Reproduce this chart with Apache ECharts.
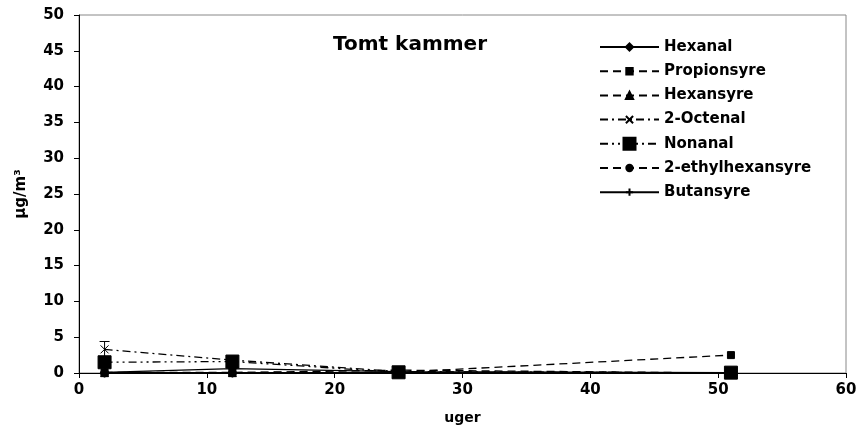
<!DOCTYPE html>
<html><head><meta charset="utf-8">
<script src="https://cdn.jsdelivr.net/npm/echarts@6/dist/echarts.min.js"></script>
<style>html,body{margin:0;padding:0;background:#fff}#c{width:863px;height:432px}</style>
</head><body><div id="c"></div>
<script>
const weeks = [2, 12, 25, 51];
const seriesNames = ['Hexanal', 'Propionsyre', 'Hexansyre', '2-Octenal', 'Nonanal', '2-ethylhexansyre', 'Butansyre'];
const hexanal = [0.1, 0.6, 0.2, 0.05];
const propionsyre = [0.1, 0.1, 0.1, 2.5];
const hexansyre = [0.05, 0.05, 0.4, 0.0];
const octenal = [3.3, 1.8, 0.2, 0.0];
const nonanal = [1.5, 1.6, 0.1, 0.05];
const ethylhexansyre = [0.0, 0.0, 0.0, 0.0];
const butansyre = [0.05, 0.05, 0.05, 0.0];
const octenalErrX = [2];
const octenalErrLow = [2.2];
const octenalErrHigh = [4.4];
const yTicks = [0, 5, 10, 15, 20, 25, 30, 35, 40, 45, 50];
const xTicks = [0, 10, 20, 30, 40, 50, 60];

const FONT = 'DejaVu Sans, Verdana, sans-serif';
const pts = v => weeks.map((w, i) => [w, v[i]]);
const X_PATH = 'path://M0,0L10,10M10,0L0,10';
const PLUS_PATH = 'path://M5,0L5,10M0,5L10,5';

function mk(name, data, dash, symbol, size) {
  return {
    name, type: 'line', data: pts(data), symbol, symbolSize: size,
    lineStyle: {color: '#000', width: 1.3, type: dash},
    itemStyle: {color: '#000', borderColor: '#000', borderWidth: 1},
    emphasis: {disabled: true}, z: 3
  };
}

const legendIconH = [9, 8, 9, 9, 15, 8, 9];
const legends = seriesNames.map((n, i) => {
  const center = 47 + 24.2 * i;
  return {
    orient: 'vertical', left: 599, top: center - 8, itemWidth: 59, itemHeight: legendIconH[i],
    padding: 0, selectedMode: false,
    textStyle: {fontFamily: FONT, fontSize: 15, fontWeight: 'bold', color: '#000', lineHeight: 16},
    data: [n]
  };
});

const chart = echarts.init(document.getElementById('c'), null, {renderer: 'canvas'});
chart.setOption({
  animation: false,
  backgroundColor: '#fff',
  title: {text: 'Tomt kammer', left: 333, top: 35, padding: 0,
    textStyle: {fontFamily: FONT, fontSize: 20, fontWeight: 'bold', color: '#000'}},
  grid: {left: 79, right: 17, top: 15, bottom: 59, show: true, borderColor: '#888', borderWidth: 1},
  legend: legends,
  xAxis: {
    type: 'value', min: xTicks[0], max: xTicks[xTicks.length - 1], interval: 10,
    name: 'uger', nameLocation: 'middle', nameGap: 38,
    nameTextStyle: {fontFamily: FONT, fontSize: 14, fontWeight: 'bold', color: '#000'},
    axisLine: {lineStyle: {color: '#000', width: 1}},
    axisTick: {show: true, length: 5, lineStyle: {color: '#000'}},
    axisLabel: {fontFamily: FONT, fontSize: 15, fontWeight: 'bold', color: '#000', margin: 10},
    splitLine: {show: false}
  },
  yAxis: {
    type: 'value', min: yTicks[0], max: yTicks[yTicks.length - 1], interval: 5,
    name: 'µg/m³', nameLocation: 'middle', nameGap: 50, nameRotate: 90,
    nameTextStyle: {fontFamily: FONT, fontSize: 15, fontWeight: 'bold', color: '#000'},
    axisLine: {show: true, lineStyle: {color: '#000', width: 1}},
    axisTick: {show: true, length: 5, lineStyle: {color: '#000'}},
    axisLabel: {fontFamily: FONT, fontSize: 15, fontWeight: 'bold', color: '#000', margin: 15},
    splitLine: {show: false}
  },
  series: [
    mk(seriesNames[0], hexanal, 'solid', 'diamond', 8),
    mk(seriesNames[1], propionsyre, [8, 5], 'rect', 7),
    mk(seriesNames[2], hexansyre, [8, 5], 'triangle', 8),
    mk(seriesNames[3], octenal, [8, 4, 2, 4], X_PATH, 8),
    mk(seriesNames[4], nonanal, [8, 4, 2, 4, 2, 4], 'rect', 13),
    mk(seriesNames[5], ethylhexansyre, [8, 5], 'circle', 8),
    mk(seriesNames[6], butansyre, 'solid', PLUS_PATH, 9),
    {
      type: 'custom', name: 'err', silent: true, z: 2,
      data: octenalErrX.map((x, i) => [x, octenalErrLow[i], octenalErrHigh[i]]),
      renderItem: function (params, api) {
        const lo = api.coord([api.value(0), api.value(1)]);
        const hi = api.coord([api.value(0), api.value(2)]);
        const w = 5;
        const st = {stroke: '#000', lineWidth: 1};
        return {type: 'group', children: [
          {type: 'line', shape: {x1: hi[0], y1: hi[1], x2: lo[0], y2: lo[1]}, style: st},
          {type: 'line', shape: {x1: hi[0] - w, y1: hi[1], x2: hi[0] + w, y2: hi[1]}, style: st},
          {type: 'line', shape: {x1: lo[0] - w, y1: lo[1], x2: lo[0] + w, y2: lo[1]}, style: st}
        ]};
      }
    }
  ]
});
</script></body></html>
